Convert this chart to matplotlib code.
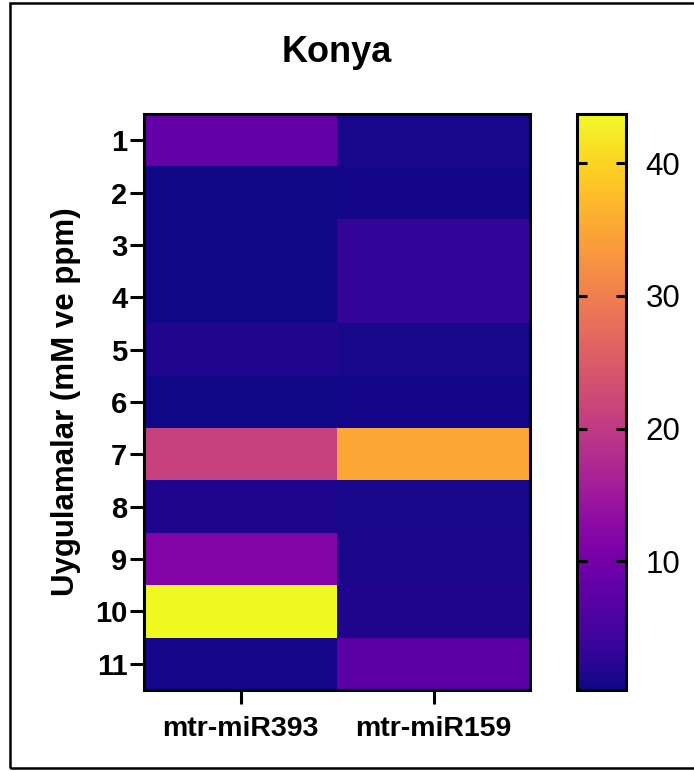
import numpy as np
import matplotlib
matplotlib.use("Agg")
import matplotlib.pyplot as plt
from matplotlib.patches import Rectangle

plt.rcParams['font.family'] = ['Liberation Sans', 'DejaVu Sans']

# relative expression per treatment (rows) and miRNA (columns)
treatments = ['1', '2', '3', '4', '5', '6', '7', '8', '9', '10', '11']
mirnas = ['mtr-miR393', 'mtr-miR159']
mir393 = [8.3, 0.5, 0.5, 0.5, 1.7, 0.6, 21.0, 1.6, 11.8, 43.7, 0.9]
mir159 = [1.0, 0.8, 3.4, 3.4, 1.0, 0.8, 35.0, 1.0, 1.2, 1.6, 7.4]
cbar_ticks = [10, 20, 30, 40]

data = np.column_stack([mir393, mir159])

W, H = 694, 771
fig = plt.figure(figsize=(W / 100, H / 100), dpi=100)

lw = 2.2
ax = fig.add_axes([144 / W, 1 - 690 / H, 386 / W, 576 / H])
im = ax.imshow(data, cmap='plasma', aspect='auto', interpolation='nearest',
               vmin=0.3, vmax=43.7)
ax.set_xticks(range(len(mirnas)))
ax.set_xticklabels(mirnas, fontsize=20.5, fontweight='bold')
ax.set_yticks(range(len(treatments)))
ax.set_yticklabels(treatments, fontsize=21, fontweight='bold')
ax.tick_params(axis='both', length=10, width=lw, pad=2)
ax.tick_params(axis='x', pad=9)
for s in ax.spines.values():
    s.set_linewidth(lw)
ax.set_ylabel('Uygulamalar (mM ve ppm)', fontsize=22.5, fontweight='bold',
              labelpad=10)

cax = fig.add_axes([577 / W, 1 - 690 / H, 49 / W, 576 / H])
cb = fig.colorbar(im, cax=cax)
cb.set_ticks(cbar_ticks)
cb.outline.set_linewidth(lw)
cax.tick_params(direction='in', left=True, right=True, length=7, width=lw,
                labelsize=22.5, pad=14)

fig.text(337 / W, 1 - 53 / H, 'Konya', fontsize=26, fontweight='bold',
         ha='center', va='center')

# frame around the whole figure
fig.patches.append(Rectangle((9.5 / W, 1 - 767.5 / H), 1.0, 765 / H,
                             transform=fig.transFigure, fill=False,
                             edgecolor='black', linewidth=1.8))

fig.savefig('out.png', dpi=100)
